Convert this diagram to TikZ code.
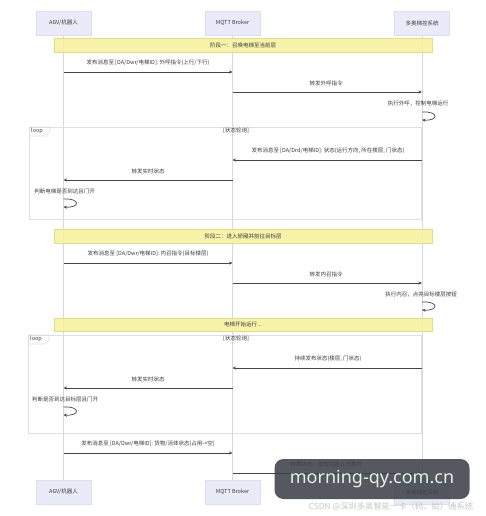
\documentclass[tikz,border=0pt]{standalone}
\usepackage{fontspec}
\setmainfont{Noto Sans CJK SC}
\newfontfamily\wmfont{Noto Sans}
\usetikzlibrary{arrows.meta}
\definecolor{partfill}{RGB}{234,234,248}
\definecolor{partline}{RGB}{222,222,240}
\definecolor{notefill}{RGB}{247,242,160}
\definecolor{notedraw}{RGB}{226,220,130}
\definecolor{txt}{RGB}{60,60,60}
\definecolor{arrowc}{RGB}{70,70,70}
\definecolor{lifec}{RGB}{215,215,222}
\definecolor{loopc}{RGB}{222,222,228}
\definecolor{wmfill}{RGB}{62,66,72}
\definecolor{wmtext}{RGB}{226,242,234}
\begin{document}
\begin{tikzpicture}[x=1pt,y=-1pt,
  part/.style={draw=partline, fill=partfill, minimum width=55pt, minimum height=24pt, inner sep=0pt, font=\fontsize{5.5}{6}\selectfont, text=txt},
  notebox/.style={draw=notedraw, fill=notefill, fill opacity=0.9, text opacity=1, minimum width=378pt, minimum height=14pt, inner sep=0pt, font=\fontsize{5.5}{6}\selectfont, text=txt},
  lbl/.style={inner sep=0pt, font=\fontsize{5.5}{6}\selectfont, text=txt},
  msg/.style={draw=arrowc, line width=0.7pt, -{Stealth[length=3.5pt,width=3pt]}},
  life/.style={draw=lifec, line width=0.6pt},
  loopbox/.style={draw=loopc, line width=0.6pt},
  wm/.style={fill=wmfill, fill opacity=0.88, text opacity=1, rounded corners=9pt, minimum width=195pt, minimum height=40pt, text=wmtext, font=\wmfont\fontsize{18}{20}\selectfont},
  csdn/.style={inner sep=0pt, text=black!22, font=\fontsize{8.3}{9}\selectfont}
]
\useasboundingbox (0,0) rectangle (486,516);
\fill[white] (0,0) rectangle (486,516);

% participants
\node[part] (a1) at (63.5,23) {AGV/机器人};
\node[part] (b1) at (232.5,23) {MQTT Broker};
\node[part] (c1) at (422,23) {多奥梯控系统};
\node[part] (a2) at (63.5,492) {AGV/机器人};
\node[part] (b2) at (232.5,492) {MQTT Broker};
\node[part] (c2) at (422,492) {多奥梯控系统};

% lifelines
\draw[life] (a1.south) -- (a2.north);
\draw[life] (b1.south) -- (b2.north);
\draw[life] (c1.south) -- (c2.north);

% loop boxes
\draw[loopbox] (29,127) rectangle (421,219);
\draw[loopbox] (29,127) -- (50,127) -- (50,132) -- (46,136) -- (29,136);
\node[lbl, anchor=west] (lp1) at (31,131) {loop};
\node[lbl] (lc1) at (236,131) {[状态轮询]};

\draw[loopbox] (28,335) rectangle (421,433);
\draw[loopbox] (28,335) -- (49,335) -- (49,340) -- (45,344) -- (28,344);
\node[lbl, anchor=west] (lp2) at (30,339) {loop};
\node[lbl] (lc2) at (236,339) {[状态轮询]};

% notes
\node[notebox] (n1) at (243,45) {阶段一：召唤电梯至当前层};
\node[notebox] (n2) at (243,236) {阶段二：进入轿厢并前往目标层};
\node[notebox, minimum height=13pt] (n3) at (243,324.5) {电梯开始运行...};

% phase 1
\node[lbl] (t1) at (148,63) {发布消息至 [DA/Dwr/电梯ID]: 外呼指令(上行/下行)};
\draw[msg] (a1 |- 0,72) -- (b1 |- 0,72);
\node[lbl] (t2) at (326,83) {转发外呼指令};
\draw[msg] (b1 |- 0,92) -- (c1 |- 0,92);
\node[lbl] (t3) at (418,103) {执行外呼，控制电梯运行};
\draw[msg] (c1 |- 0,112) .. controls +(17,-1) and +(17,1) .. (c1 |- 0,120);

\node[lbl] (t4) at (328,151) {发布消息至 [DA/Drd/电梯ID]: 状态(运行方向, 所在楼层, 门状态)};
\draw[msg] (c1 |- 0,160) -- (b1 |- 0,160);
\node[lbl] (t5) at (148,171) {转发实时状态};
\draw[msg] (b1 |- 0,180) -- (a1 |- 0,180);
\node[lbl] (t6) at (64.5,191) {判断电梯是否到达且门开};
\draw[msg] (a1 |- 0,199) .. controls +(17,-1) and +(17,1) .. (a1 |- 0,207);

% phase 2
\node[lbl] (t7) at (148,254) {发布消息至 [DA/Dwr/电梯ID]: 内召指令(目标楼层)};
\draw[msg] (a1 |- 0,263) -- (b1 |- 0,263);
\node[lbl] (t8) at (326,274) {转发内召指令};
\draw[msg] (b1 |- 0,283) -- (c1 |- 0,283);
\node[lbl] (t9) at (421,294) {执行内召，点亮目标楼层按钮};
\draw[msg] (c1 |- 0,302) .. controls +(17,-1) and +(17,1) .. (c1 |- 0,310);

\node[lbl] (t10) at (328,359) {持续发布状态(楼层, 门状态)};
\draw[msg] (c1 |- 0,368) -- (b1 |- 0,368);
\node[lbl] (t11) at (148,379) {转发实时状态};
\draw[msg] (b1 |- 0,388) -- (a1 |- 0,388);
\node[lbl] (t12) at (65,399) {判断是否到达目标层且门开};
\draw[msg] (a1 |- 0,407) .. controls +(17,-1) and +(17,1) .. (a1 |- 0,415);

\node[lbl] (t13) at (148,444) {发布消息至 [DA/Dwr/电梯ID]: 货物/活体状态(占用->空)};
\draw[msg] (a1 |- 0,453) -- (b1 |- 0,453);
\node[lbl] (t14) at (326,464) {转发状态，告知机器人已离开};
\draw[msg] (b1 |- 0,473) -- (c1 |- 0,473);

% watermarks
\node[wm] (wmk) at (372,479) {morning-qy.com.cn};
\node[csdn] (cs) at (391,507) {CSDN @深圳多奥智能一卡（码、脸）通系统};
\end{tikzpicture}
\end{document}
